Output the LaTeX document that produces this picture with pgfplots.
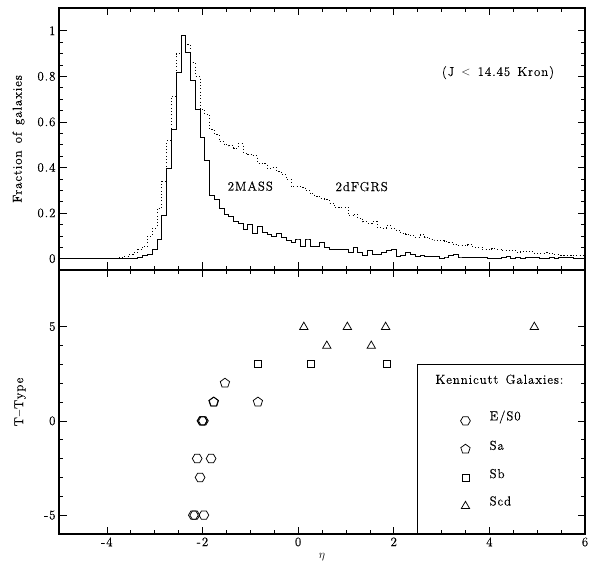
\documentclass[border=0pt]{standalone}
\usepackage{fontspec}
\usepackage{pgfplots}
\pgfplotsset{compat=1.18}
\newfontfamily\lab[LetterSpace=7,FakeBold=0.25,WordSpace=1.4]{Latin Modern Roman}
\newcommand{\lf}{\fontsize{13}{15}\lab}
\pgfdeclareplotmark{khex}{%
 \pgfpathmoveto{\pgfqpoint{4.9bp}{0bp}}\pgfpathlineto{\pgfqpoint{2.45bp}{4.2bp}}\pgfpathlineto{\pgfqpoint{-2.45bp}{4.2bp}}\pgfpathlineto{\pgfqpoint{-4.9bp}{0bp}}\pgfpathlineto{\pgfqpoint{-2.45bp}{-4.2bp}}\pgfpathlineto{\pgfqpoint{2.45bp}{-4.2bp}}\pgfpathclose\pgfusepathqstroke}
\pgfdeclareplotmark{kpent}{%
 \pgfpathmoveto{\pgfqpoint{0bp}{4.9bp}}\pgfpathlineto{\pgfqpoint{4.66bp}{1.51bp}}\pgfpathlineto{\pgfqpoint{2.88bp}{-3.96bp}}\pgfpathlineto{\pgfqpoint{-2.88bp}{-3.96bp}}\pgfpathlineto{\pgfqpoint{-4.66bp}{1.51bp}}\pgfpathclose\pgfusepathqstroke}
\pgfdeclareplotmark{ksq}{%
 \pgfpathmoveto{\pgfqpoint{3.5bp}{3.5bp}}\pgfpathlineto{\pgfqpoint{-3.5bp}{3.5bp}}\pgfpathlineto{\pgfqpoint{-3.5bp}{-3.5bp}}\pgfpathlineto{\pgfqpoint{3.5bp}{-3.5bp}}\pgfpathclose\pgfusepathqstroke}
\pgfdeclareplotmark{ktri}{%
 \pgfpathmoveto{\pgfqpoint{0bp}{4.4bp}}\pgfpathlineto{\pgfqpoint{4.2bp}{-2.9bp}}\pgfpathlineto{\pgfqpoint{-4.2bp}{-2.9bp}}\pgfpathclose\pgfusepathqstroke}
\pgfplotsset{
  panel/.style={
    scale only axis, width=526bp, height=#1,
    xmin=-5, xmax=6,
    axis line style={line width=1.2bp},
    tick style={black, line width=0.6bp},
    major tick length=7.5bp, minor tick length=4bp,
    tick align=inside,
    xtick={-4,-2,0,2,4,6}, minor x tick num=3,
    xtick pos=both, ytick pos=both,
    /pgf/number format/assume math mode=true,
    every tick label/.append style={font=\lf},
    clip=false,
  }
}
\begin{document}
\begin{tikzpicture}[x=1bp,y=1bp]
\path (0,0) rectangle (600,564);
\begin{axis}[panel=262bp, at={(59bp,294bp)}, anchor=south west,
  ymin=-0.05, ymax=1.1,
  ytick={0,0.2,0.4,0.6,0.8,1},
  minor y tick num=3, xticklabels={},
]
\addplot[const plot mark mid, black, line width=0.85bp, no marks] table {
-5.0 0
-3.7 0
-3.6 .001
-3.5 .002
-3.4 .002
-3.3 .005
-3.2 .012
-3.1 .02
-3.0 .042
-2.9 .083
-2.8 .191
-2.7 .397
-2.6 .568
-2.5 .816
-2.4 .981
-2.3 .905
-2.2 .784
-2.1 .653
-2.0 .530
-1.9 .432
-1.8 .276
-1.7 .258
-1.6 .22
-1.5 .196
-1.4 .185
-1.3 .163
-1.2 .156
-1.1 .127
-1.0 .148
-0.9 .11
-0.8 .142
-0.7 .113
-0.6 .105
-0.5 .098
-0.4 .11
-0.3 .095
-0.2 .08
-0.1 .071
0.0 .086
0.1 .054
0.2 .086
0.3 .054
0.4 .054
0.5 .069
0.6 .047
0.7 .04
0.8 .04
0.9 .04
1.0 .04
1.1 .025
1.2 .05
1.3 .028
1.4 .013
1.5 .036
1.6 .02
1.7 .018
1.8 .025
1.9 .035
2.0 .042
2.1 .01
2.2 .013
2.3 .028
2.4 .02
2.5 .01
2.6 .012
2.7 .01
2.8 .01
2.9 .01
3.0 .002
3.1 .007
3.2 .012
3.3 .019
3.4 .007
3.5 .006
3.6 .004
3.7 .006
3.8 .003
3.9 .003
4.0 .002
4.1 0
4.2 0
4.3 .006
4.4 .01
4.5 .002
4.6 .004
4.7 .002
4.8 .006
4.9 .004
5.0 .003
5.1 .002
5.2 .002
5.3 .006
5.4 .002
5.5 .004
5.6 .003
5.7 .004
5.8 .002
5.9 .002
6.0 .002
};
\addplot[const plot mark mid, black, line width=0.85bp, dash pattern=on 0.9bp off 2.4bp, no marks] table {
-4.0 0
-3.9 .001
-3.8 .002
-3.7 .005
-3.6 .01
-3.5 .018
-3.4 .025
-3.3 .04
-3.2 .054
-3.1 .098
-3.0 .134
-2.9 .222
-2.8 .339
-2.7 .518
-2.6 .714
-2.5 .90
-2.4 .98
-2.3 .938
-2.2 .86
-2.1 .80
-2.0 .656
-1.9 .631
-1.8 .565
-1.7 .543
-1.6 .514
-1.5 .499
-1.4 .495
-1.3 .485
-1.2 .504
-1.1 .463
-1.0 .456
-0.9 .451
-0.8 .419
-0.7 .416
-0.6 .397
-0.5 .40
-0.4 .382
-0.3 .368
-0.2 .349
-0.1 .317
0.0 .317
0.1 .312
0.2 .299
0.3 .285
0.4 .273
0.5 .263
0.6 .258
0.7 .244
0.8 .225
0.9 .226
1.0 .226
1.1 .188
1.2 .196
1.3 .178
1.4 .161
1.5 .156
1.6 .163
1.7 .137
1.8 .134
1.9 .145
2.0 .134
2.1 .124
2.2 .112
2.3 .108
2.4 .10
2.5 .095
2.6 .105
2.7 .095
2.8 .086
2.9 .079
3.0 .079
3.1 .076
3.2 .072
3.3 .061
3.4 .058
3.5 .058
3.6 .061
3.7 .05
3.8 .05
3.9 .039
4.0 .039
4.1 .044
4.2 .042
4.3 .035
4.4 .035
4.5 .036
4.6 .029
4.7 .032
4.8 .03
4.9 .03
5.0 .022
5.1 .023
5.2 .026
5.3 .022
5.4 .018
5.5 .016
5.6 .015
5.7 .015
5.8 .016
5.9 .016
6.0 .016
};
\node[font=\lf] at (axis cs:-1.0,0.318) {2MASS};
\node[font=\lf] at (axis cs:1.33,0.316) {2dFGRS};
\node[font=\lf] at (axis cs:4.18,0.816) {(J $<$ 14.45 Kron)};
\node[font=\lf, rotate=90] at (rel axis cs:-0.077,0.5) {Fraction of galaxies};
\end{axis}
\begin{axis}[panel=264bp, at={(59bp,30bp)}, anchor=south west,
  ymin=-6, ymax=8,
  ytick={-5,0,5}, minor y tick num=4,
  xlabel={\lf $\eta$},
  xlabel style={yshift=0bp},
]
\addplot[only marks, mark=khex, line width=0.75bp] table {
-2.19 -5
-2.16 -5
-1.97 -5
-2.05 -3
-2.11 -2
-1.82 -2
-2.01 0
-1.98 0
-2.0 0
3.5 0
};
\addplot[only marks, mark=kpent, line width=0.75bp] table {
-1.77 1
-1.76 1
-0.84 1
-1.53 2
3.5 -1.5
};
\addplot[only marks, mark=ksq, line width=0.75bp] table {
-0.84 3
0.26 3
1.85 3
3.5 -3
};
\addplot[only marks, mark=ktri, line width=0.75bp] table {
0.12 5
1.03 5
1.83 5
0.6 4
1.53 4
4.94 5
3.5 -4.5
};
\addplot[black, line width=0.6bp, no marks] coordinates {(2.5,-6) (2.5,3) (6,3)};
\node[font=\lf] at (axis cs:4.21,2.2) {Kennicutt Galaxies:};
\node[font=\lf, anchor=west, inner sep=0pt] at (axis cs:4.0,0.2) {E/S0};
\node[font=\lf, anchor=west, inner sep=0pt] at (axis cs:4.0,-1.3) {Sa};
\node[font=\lf, anchor=west, inner sep=0pt] at (axis cs:4.0,-2.8) {Sb};
\node[font=\lf, anchor=west, inner sep=0pt] at (axis cs:4.0,-4.25) {Scd};
\node[font=\lf, rotate=90] at (rel axis cs:-0.074,0.5) {T–Type};
\end{axis}
\end{tikzpicture}
\end{document}
